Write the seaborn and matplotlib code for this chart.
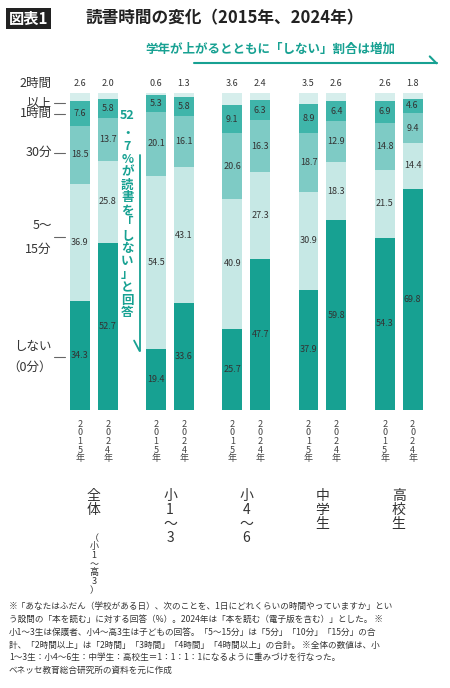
import numpy as np
import pandas as pd
import matplotlib
matplotlib.use('Agg')
import matplotlib.pyplot as plt
import seaborn as sns

sns.set_style('white')
plt.rcParams['font.family'] = ['Noto Sans CJK JP', 'DejaVu Sans']

groups = ['全\n体', '小\n1\n〜\n3', '小\n4\n〜\n6', '中\n学\n生', '高\n校\n生']
years = ['2015年', '2024年']
layers = ['しない', '5〜15分', '30分', '1時間', '2時間以上']
# bars: 全体15, 全体24, 小1-3 15, 24, 小4-6 15, 24, 中 15, 24, 高 15, 24
none_ = [34.3, 52.7, 19.4, 33.6, 25.7, 47.7, 37.9, 59.8, 54.3, 69.8]
min15 = [36.9, 25.8, 54.5, 43.1, 40.9, 27.3, 30.9, 18.3, 21.5, 14.4]
min30 = [18.5, 13.7, 20.1, 16.1, 20.6, 16.3, 18.7, 12.9, 14.8, 9.4]
hour1 = [7.6, 5.8, 5.3, 5.8, 9.1, 6.3, 8.9, 6.4, 6.9, 4.6]
hour2 = [2.6, 2.0, 0.6, 1.3, 3.6, 2.4, 3.5, 2.6, 2.6, 1.8]
colors = ['#17a192', '#c6e8e5', '#7ecbc5', '#3fb5aa', '#d6eeec']

fig = plt.figure(figsize=(4.5, 6.88), dpi=100)
ax = fig.add_axes([0.14, 0.404, 0.83, 0.461])

gap, off = 76.5, 14
xs = []
for g in range(len(groups)):
    xs += [g * gap - off, g * gap + off]
xs = np.array(xs)

data = [none_, min15, min30, hour1, hour2]
bottom = np.zeros(len(xs))
for k, (name, vals, c) in enumerate(zip(layers, data, colors)):
    vals = np.array(vals)
    df = pd.DataFrame({'x': xs, 'v': vals})
    # width is relative to the smallest spacing between bars (28)
    sns.barplot(data=df, x='x', y='v', native_scale=True, width=20 / 28, color=c,
                bottom=bottom, ax=ax, saturation=1, linewidth=0)
    for x, v, b in zip(xs, vals, bottom):
        if k < len(layers) - 1:
            ax.text(x, b + v / 2, f'{v:.1f}', ha='center', va='center', fontsize=6.5, color='#333333')
        else:
            ax.text(x, b + v + 1.5, f'{v:.1f}', ha='center', va='bottom', fontsize=6.5, color='#333333')
    bottom = bottom + vals

ax.set_xlim(-off - 17, 4 * gap + off + 24)
ax.set_ylim(0, 100)
ax.axis('off')

# year labels and group labels
for i, x in enumerate(xs):
    ax.text(x, -3, '\n'.join(list(years[i % 2].replace('年', '')) + ['年']), ha='center', va='top',
            fontsize=6.5, color='#444444', linespacing=0.95)
for g, name in enumerate(groups):
    ax.text(g * gap, -25, name, ha='center', va='top', fontsize=10, color='#333333', linespacing=1.0)
ax.text(0, -39, '（\n小\n1\n〜\n高\n3\n）', ha='center', va='top', fontsize=6.5, color='#333333',
        linespacing=0.95)

# left scale labels
ylabels = [(0.879, '2時間'), (0.851, '以上'), (0.835, '1時間'), (0.778, '30分'),
           (0.672, '5〜'), (0.637, '15分'), (0.496, 'しない'), (0.466, '（0分）')]
for y, t in ylabels:
    fig.text(0.115, y, t, ha='right', va='center', fontsize=9, color='#333333')
for y in [0.851, 0.835, 0.778, 0.655, 0.481]:
    fig.add_artist(plt.Line2D([0.12, 0.145], [y, y], color='#666666', lw=0.8))

# top arrow annotation
fig.add_artist(plt.Line2D([0.43, 0.97], [0.908, 0.908], color='#17a192', lw=1.5))
fig.add_artist(plt.Line2D([0.955, 0.97], [0.918, 0.908], color='#17a192', lw=1.5))
fig.text(0.6, 0.928, '学年が上がるとともに「しない」割合は増加', ha='center', va='center',
         fontsize=9, color='#17a192', fontweight='bold')

# vertical annotation
fig.text(0.283, 0.842, '52', ha='center', va='top', fontsize=9, color='#17a192', fontweight='bold')
fig.text(0.283, 0.815, '・\n7\n%\nが\n読\n書\nを\n「\nし\nな\nい\n」\nと\n回\n答',
         ha='center', va='top', fontsize=9, color='#17a192', fontweight='bold', linespacing=0.98)
fig.add_artist(plt.Line2D([0.31, 0.31], [0.775, 0.49], color='#17a192', lw=1.3))
fig.add_artist(plt.Line2D([0.298, 0.31], [0.505, 0.49], color='#17a192', lw=1.3))

# title
fig.text(0.02, 0.973, '図表1', ha='left', va='center', fontsize=11, color='white', fontweight='bold',
         bbox=dict(facecolor='#222222', edgecolor='none', pad=2))
fig.text(0.19, 0.973, '読書時間の変化（2015年、2024年）', ha='left', va='center', fontsize=12,
         color='#222222', fontweight='bold')

note = ('※「あなたはふだん（学校がある日）、次のことを、1日にどれくらいの時間やっていますか」とい\n'
        'う設問の「本を読む」に対する回答（%）。2024年は「本を読む（電子版を含む）」とした。 ※\n'
        '小1〜3生は保護者、小4〜高3生は子どもの回答。「5〜15分」は「5分」「10分」「15分」の合\n'
        '計、「2時間以上」は「2時間」「3時間」「4時間」「4時間以上」の合計。 ※全体の数値は、小\n'
        '1〜3生：小4〜6生：中学生：高校生＝1：1：1：1になるように重みづけを行なった。\n'
        'ベネッセ教育総合研究所の資料を元に作成')
fig.text(0.02, 0.125, note, ha='left', va='top', fontsize=6.2, color='#333333', linespacing=1.55)

fig.savefig('out.png', dpi=100)
